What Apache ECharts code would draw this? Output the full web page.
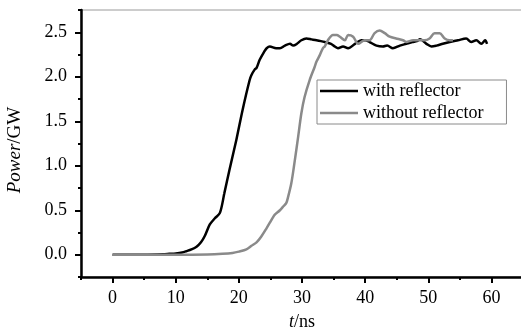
<!DOCTYPE html>
<html>
<head>
<meta charset="utf-8">
<script src="https://cdn.jsdelivr.net/npm/echarts@6/dist/echarts.min.js"></script>
<style>
html,body{margin:0;padding:0;background:#fff;}
#chart{width:521px;height:328px;}
</style>
</head>
<body>
<div id="chart"></div>
<script>
// ---- data ----
var seriesNames = ['with reflector', 'without reflector'];

var tWith = [0,5,8,9,10,11,11.7,12.5,13.3,14,14.6,15.4,16.2,17.0,17.7,18.5,19.6,20.6,21.7,22.0,22.5,22.8,23.3,24.0,24.4,24.9,25.9,26.5,27.3,28.1,28.6,29.2,29.9,30.7,31.5,32.3,33.0,33.6,34.6,35.2,35.7,36.5,37.3,38.4,39.4,40.0,40.7,41.8,42.8,43.5,44.4,45.5,46.5,47.5,48.2,48.7,49.7,50.5,51.3,52.3,53.4,54.7,56.0,56.8,57.6,58.4,59.0,59.3];
var pWith = [0,0,0.005,0.01,0.015,0.025,0.04,0.06,0.09,0.14,0.21,0.34,0.41,0.47,0.69,0.95,1.29,1.63,1.96,2.02,2.08,2.10,2.19,2.28,2.32,2.34,2.32,2.32,2.35,2.37,2.35,2.37,2.41,2.43,2.42,2.41,2.40,2.39,2.37,2.34,2.32,2.34,2.32,2.37,2.41,2.41,2.39,2.35,2.34,2.35,2.32,2.35,2.37,2.39,2.40,2.42,2.37,2.34,2.35,2.37,2.39,2.41,2.43,2.39,2.41,2.37,2.41,2.37];

var tWithout = [0,10,15,17.4,19,20,21.2,22,22.8,23.5,24.4,24.9,25.4,25.7,26.5,27.0,27.5,27.8,28.3,28.8,29.4,29.9,30.4,31.2,32.0,32.3,32.8,33.3,33.6,34.1,34.9,35.5,36.0,36.8,37.3,38.1,38.9,39.9,40.7,41.5,42.3,43.1,43.9,44.9,46.0,46.5,47.6,48.7,49.4,50.2,51.0,51.8,52.6,53.4,53.9];
var pWithout = [0,0,0.003,0.01,0.02,0.035,0.06,0.1,0.14,0.2,0.3,0.36,0.42,0.45,0.5,0.54,0.58,0.65,0.8,1.03,1.33,1.59,1.77,1.96,2.11,2.17,2.24,2.32,2.34,2.41,2.47,2.47,2.45,2.41,2.47,2.45,2.37,2.41,2.41,2.49,2.52,2.49,2.45,2.43,2.41,2.39,2.41,2.41,2.41,2.43,2.49,2.49,2.43,2.41,2.41];

var xMajorTicks = [0,10,20,30,40,50,60];
var xMinorTicks = [-5,5,15,25,35,45,55,65];
var yMajorTicks = [0,0.5,1.0,1.5,2.0,2.5];
var yMinorTicks = [-0.25,0.25,0.75,1.25,1.75,2.25,2.75];

function zip(a, b) { return a.map(function (v, i) { return [v, b[i]]; }); }

var FONT = 'Liberation Serif';
var FS = 18;
var chart = echarts.init(document.getElementById('chart'), null, {renderer: 'canvas'});

var option = {
  backgroundColor: '#fff',
  animation: false,
  grid: {left: 81, top: 10, right: -2, bottom: 51, containLabel: false, outerBoundsMode: 'none',
    show: true, borderColor: '#9a9a9a', borderWidth: 1, backgroundColor: 'transparent'},
  legend: {
    data: seriesNames,
    orient: 'vertical',
    left: 317, top: 80,
    padding: [2, 23, 2, 3],
    itemGap: 4,
    itemWidth: 38, itemHeight: 2.5,
    icon: 'rect',
    borderColor: '#8a8a8a', borderWidth: 1,
    textStyle: {fontFamily: FONT, fontSize: FS, color: '#000', lineHeight: 18}
  },
  xAxis: [{
    type: 'value', min: -5, max: 65, interval: 5,
    name: '{i|t}/ns', nameLocation: 'middle', nameGap: 36,
    nameTextStyle: {fontFamily: FONT, fontSize: FS, color: '#000', rich: {i: {fontFamily: FONT, fontSize: FS, fontStyle: 'italic', color: '#000'}}},
    axisLine: {show: true, onZero: false, lineStyle: {color: '#000', width: 2.5}},
    axisTick: {show: true, customValues: xMajorTicks, length: 6, lineStyle: {color: '#000', width: 2}},
    axisLabel: {customValues: xMajorTicks, margin: 12, fontFamily: FONT, fontSize: FS, color: '#000'},
    splitLine: {show: false}
  }, {
    type: 'value', min: -5, max: 65, interval: 5, position: 'bottom',
    axisLine: {show: false, onZero: false},
    axisTick: {show: true, customValues: xMinorTicks, length: 3, lineStyle: {color: '#000', width: 2}},
    axisLabel: {show: false},
    splitLine: {show: false}
  }],
  yAxis: [{
    type: 'value', min: -0.25, max: 2.75, interval: 0.25,
    axisLine: {show: true, onZero: false, lineStyle: {color: '#000', width: 2.5}},
    axisTick: {show: true, customValues: yMajorTicks, length: 6, lineStyle: {color: '#000', width: 2}},
    axisLabel: {customValues: yMajorTicks, margin: 14, fontFamily: FONT, fontSize: FS, color: '#000',
      formatter: function (v) { return v.toFixed(1); }},
    splitLine: {show: false}
  }, {
    type: 'value', min: -0.25, max: 2.75, interval: 0.25, position: 'left', offset: 0,
    axisLine: {show: false, onZero: false},
    axisTick: {show: true, customValues: yMinorTicks, length: 3, lineStyle: {color: '#000', width: 2}},
    axisLabel: {show: false},
    splitLine: {show: false}
  }],
  graphic: [{
    type: 'text', x: 15, y: 150, rotation: Math.PI / 2,
    style: {
      text: '{i|Power}/GW', align: 'center', verticalAlign: 'middle',
      fontFamily: FONT, fontSize: 19, fill: '#000',
      rich: {i: {fontFamily: FONT, fontSize: 19, fontStyle: 'italic', fill: '#000'}}
    }
  }],
  series: [{
    name: seriesNames[0], type: 'line', data: zip(tWith, pWith),
    showSymbol: false, symbol: 'none', smooth: 0.3,
    lineStyle: {color: '#000', width: 2.5}, itemStyle: {color: '#000'}
  }, {
    name: seriesNames[1], type: 'line', data: zip(tWithout, pWithout),
    showSymbol: false, symbol: 'none', smooth: 0.3,
    lineStyle: {color: '#8a8a8a', width: 2.5}, itemStyle: {color: '#8a8a8a'}
  }]
};
chart.setOption(option);
</script>
</body>
</html>
